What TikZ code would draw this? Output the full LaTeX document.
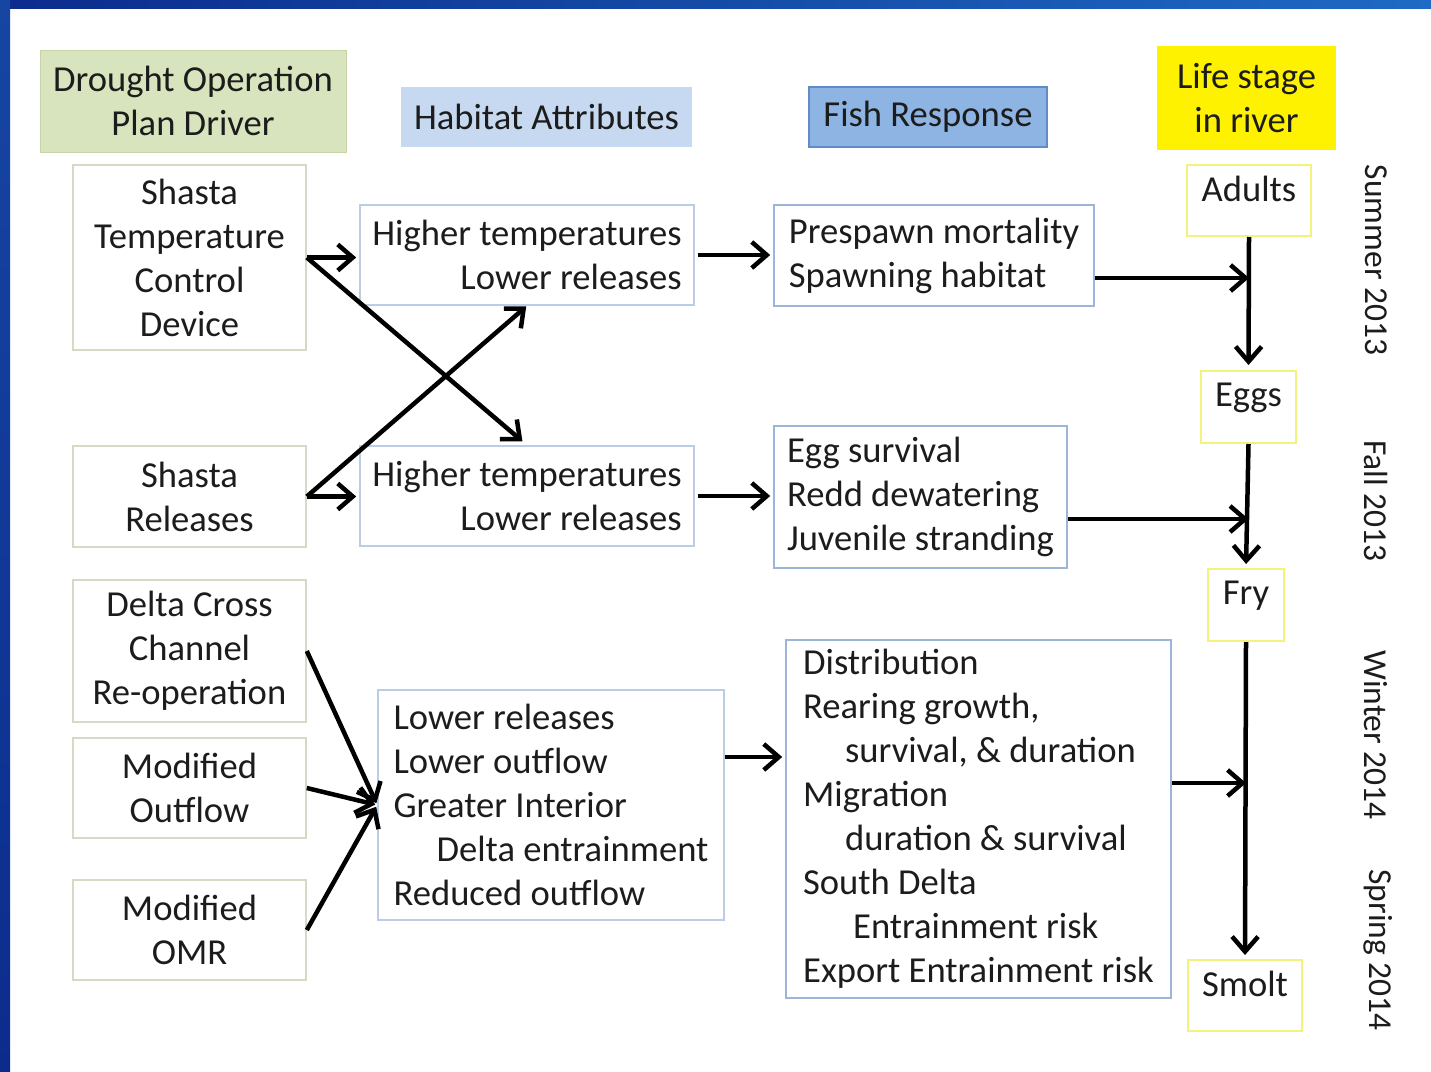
\documentclass[tikz,border=0pt]{standalone}
\usepackage{fontspec}
\setmainfont{Carlito}
\usetikzlibrary{arrows.meta,calc}

\definecolor{frameA}{HTML}{0C2C8C}
\definecolor{frameB}{HTML}{1E6AC4}
\definecolor{frameT}{HTML}{1646A2}
\definecolor{txt}{HTML}{1C1C1C}
\definecolor{drvfill}{HTML}{D7E4BD}
\definecolor{drvedge}{HTML}{C6D4A6}
\definecolor{habfill}{HTML}{C6D9F1}
\definecolor{fishfill}{HTML}{8DB4E2}
\definecolor{fishedge}{HTML}{5F8CC8}
\definecolor{drvline}{HTML}{D8D8C4}
\definecolor{habline}{HTML}{BACDE4}
\definecolor{fishline}{HTML}{9DB5D6}
\definecolor{stageline}{HTML}{F2F27C}

\tikzset{
  box/.style={rectangle, inner sep=0pt, line width=1.6pt, text=txt},
  header/.style={box, align=center},
  drvbox/.style={box, draw=drvline, align=center},
  habbox/.style={box, draw=habline},
  fishbox/.style={box, draw=fishline, align=left},
  stagebox/.style={box, draw=stageline, line width=2pt, align=center, text depth=24pt},
  season/.style={text=txt, rotate=-90, inner sep=0pt,
                 font=\fontsize{33.5}{40}\selectfont},
  arr/.style={line width=4.5pt, draw=black,
              -{Straight Barb[length=15pt,width=26pt]}},
}

\begin{document}
\begin{tikzpicture}[x=1pt, y=-1pt, font=\fontsize{36.6}{44}\selectfont]
\useasboundingbox (0,0) rectangle (1431,1071);

% slide frame: blue band along the top and left edges
\shade[left color=frameA, right color=frameB] (0,0) rectangle (1431,8);
\shade[top color=frameT, bottom color=frameA] (0,0) rectangle (10,1071);

% column headers
\node[header, fill=drvfill, draw=drvedge, line width=1pt,
      minimum width=306pt, minimum height=102pt] (drv) at (193,101)
      {Drought Operation\\Plan Driver};
\node[header, fill=habfill, minimum width=291pt, minimum height=60pt]
      (hab) at (546.5,117) {Habitat Attributes};
\node[header, fill=fishfill, draw=fishedge, line width=1.2pt,
      minimum width=238pt, minimum height=60pt]
      (fish) at (928,117) {Fish Response};
\node[header, fill=yellow, minimum width=179pt, minimum height=104pt]
      (life) at (1246.5,98) {Life stage\\in river};

% drivers
\node[drvbox, minimum width=233pt, minimum height=185pt] (tcd) at (189.5,257.5)
      {Shasta\\Temperature\\Control\\Device};
\node[drvbox, minimum width=233pt, minimum height=101pt] (rel) at (189.5,496.5)
      {Shasta\\Releases};
\node[drvbox, minimum width=233pt, minimum height=142pt] (dcc) at (189.5,651)
      {Delta Cross\\Channel\\Re-operation};
\node[drvbox, minimum width=233pt, minimum height=100pt] (outf) at (189.5,788)
      {Modified\\Outflow};
\node[drvbox, minimum width=233pt, minimum height=100pt] (omr) at (189.5,930)
      {Modified\\OMR};

% habitat attributes
\node[habbox, align=right, minimum width=334pt, minimum height=100pt]
      (habT) at (527,255) {Higher temperatures\\Lower releases};
\node[habbox, align=right, minimum width=334pt, minimum height=100pt]
      (habB) at (527,496) {Higher temperatures\\Lower releases};
\node[habbox, align=left, minimum width=346pt, minimum height=230pt]
      (lrel) at (551,805)
      {Lower releases\\Lower outflow\\Greater Interior\\
       \hspace*{43pt}Delta entrainment\\Reduced outflow};

% fish response
\node[fishbox, minimum width=320pt, minimum height=101pt] (pre) at (934,255.5)
      {Prespawn mortality\\Spawning habitat};
\node[fishbox, minimum width=293pt, minimum height=142pt] (egg) at (920.5,497)
      {Egg survival\\Redd dewatering\\Juvenile stranding};
\node[fishbox, minimum width=385pt, minimum height=358pt] (dist) at (978.5,819)
      {Distribution\\Rearing growth,\\\hspace*{42pt}survival, \& duration\\
       Migration\\\hspace*{42pt}duration \& survival\\South Delta\\
       \hspace*{50pt}Entrainment risk\\Export Entrainment risk};

% life stages
\node[stagebox, minimum width=124pt, minimum height=71pt] (adults) at (1249,200.5) {Adults};
\node[stagebox, minimum width=95pt, minimum height=72pt] (eggs) at (1248.5,407) {Eggs};
\node[stagebox, minimum width=76pt, minimum height=72pt] (fry) at (1246,605) {Fry};
\node[stagebox, minimum width=114pt, minimum height=71pt] (smolt) at (1245,995.5) {Smolt};

% seasons
\node[season] (summer) at (1376,260) {Summer 2013};
\node[season] (fall) at (1376,501) {Fall 2013};
\node[season] (winter) at (1376,735) {Winter 2014};
\node[season] (spring) at (1378,950) {Spring 2014};

% drivers to habitat attributes
\draw[arr, shorten >=3pt] (tcd.east) -- (tcd.east -| habT.west);
\draw[arr, shorten >=6pt] (tcd.east) -- (habB.north);
\draw[arr, shorten >=3pt] (rel.east) -- (rel.east -| habB.west);
\draw[arr, shorten >=1pt] (rel.east) -- (habT.south);
\draw[arr, shorten >=2pt] (dcc.east) -- (lrel.west);
\draw[arr, shorten >=2pt] (outf.east) -- (lrel.west);
\draw[arr, shorten >=2pt] (omr.east) -- (lrel.west);

% habitat attributes to fish response
\draw[arr, shorten <=3pt, shorten >=3pt] (habT.east) -- (habT.east -| pre.west);
\draw[arr, shorten <=3pt, shorten >=3pt] (habB.east) -- (habB.east -| egg.west);
\draw[arr, shorten >=3pt] ([yshift=48pt]lrel.east) -- ([yshift=48pt]lrel.east -| dist.west);

% fish response into the life stage line
\draw[arr] ([yshift=-22.5pt]pre.east) -- ([yshift=-22.5pt]pre.east -| adults.south);
\draw[arr] ([yshift=-22pt]egg.east) -- ([yshift=-22pt]egg.east -| eggs.south);
\draw[arr] ([yshift=36pt]dist.east) -- ([yshift=36pt]dist.east -| fry.south);

% life stage sequence
\draw[arr, shorten >=5pt] (adults.south) -- (eggs.north);
\draw[arr, shorten >=4pt] (eggs.south) -- (fry.north);
\draw[arr, shorten >=4pt] (fry.south) -- (smolt.north);
\end{tikzpicture}
\end{document}
